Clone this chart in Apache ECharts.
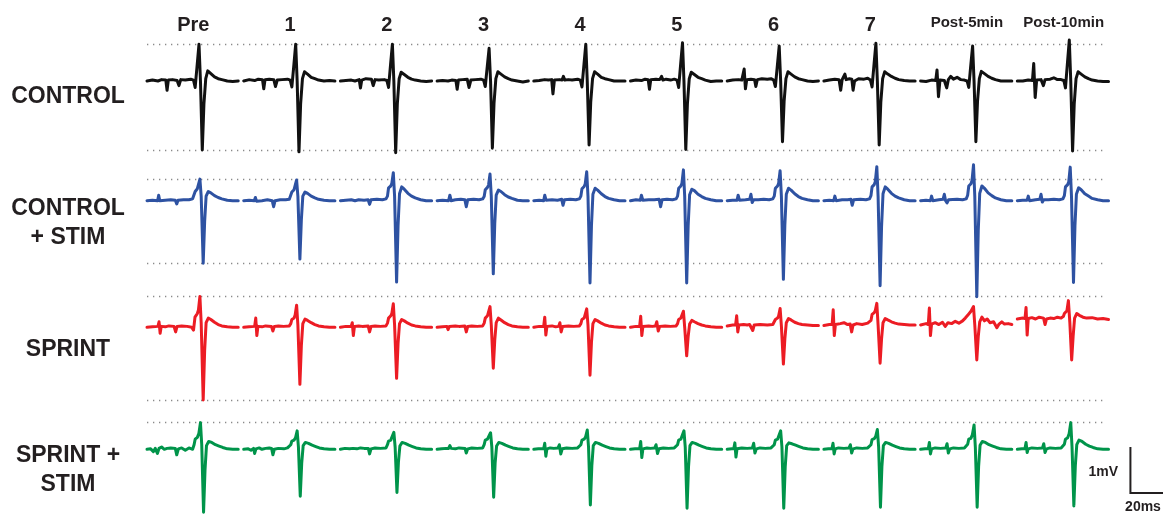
<!DOCTYPE html>
<html>
<head>
<meta charset="utf-8">
<script src="https://cdn.jsdelivr.net/npm/echarts/dist/echarts.min.js"></script>
<style>
  html, body { margin: 0; padding: 0; background: #ffffff; }
  #chart { width: 1163px; height: 514px; }
</style>
</head>
<body>
<div id="chart"></div>
<script>
// Time points and recordings: each trace is a list of [ms, mV] vertices within a 50 ms sweep.
const columnLabels = ['Pre', '1', '2', '3', '4', '5', '6', '7', 'Post-5min', 'Post-10min'];
const rowLabels = ['CONTROL', 'CONTROL\n+ STIM', 'SPRINT', 'SPRINT +\nSTIM'];
const rowColors = ['#111111', '#2e52a2', '#ec1c24', '#00944a'];

const controlTraces = [
  [[0,0],[3,0.02],[6,0],[8,0.03],[10.3,0.02],[11,-0.2],[11.7,0.02],[14,0.03],[16.5,0.01],[17.5,-0.1],[18.5,0.03],[21,0.02],[24,0.04],[25.5,0.02],[26.4,-0.14],[27.5,0.35],[28.5,0.80],[29.3,0],[30.3,-1.50],[31.2,-0.5],[32.2,0.05],[33.3,0.22],[35,0.16],[37,0.09],[39,0.05],[41,0.03],[44,0],[47,-0.01],[50,0]],
  [[0,0],[3,0.03],[6,0.01],[8,0.04],[10.3,0.03],[11,-0.17],[11.7,0.03],[14,0.04],[16.5,0.03],[17.4,-0.12],[18.4,0.02],[21,0.03],[24,0.04],[25.5,0.02],[26.4,-0.13],[27.5,0.35],[28.5,0.80],[29.3,0],[30.3,-1.54],[31.2,-0.5],[32.2,0.05],[33.3,0.20],[35,0.15],[37,0.08],[39,0.05],[41,0.02],[44,0],[47,0.01],[50,0]],
  [[0,0],[3,0.01],[6,0.02],[8,0],[10.3,0.03],[11,-0.15],[11.7,0.02],[14,0.05],[17,0.04],[18,-0.1],[19,0.03],[21,0.02],[24,0.03],[25.5,0.01],[26.4,-0.14],[27.5,0.36],[28.5,0.80],[29.3,0],[30.3,-1.56],[31.2,-0.5],[32.2,0.05],[33.3,0.19],[35,0.14],[37,0.08],[39,0.04],[41,0.02],[44,0],[47,-0.01],[50,0]],
  [[0,0],[3,0.01],[6,0],[8,0.02],[10.3,0.01],[11,-0.18],[11.7,0.02],[14,0.03],[16.5,0.04],[17.5,-0.14],[18.5,0.02],[21,0.03],[24,0.04],[25.5,0.02],[26.4,-0.12],[27.5,0.32],[28.5,0.71],[29.3,0],[30.3,-1.46],[31.2,-0.48],[32.2,0.05],[33.3,0.2],[35,0.15],[37,0.09],[39,0.05],[41,0.02],[44,0],[47,-0.02],[50,0]],
  [[0,0],[3,0.01],[6,0.03],[8,0.02],[9.8,0.03],[10.5,-0.28],[11.3,0.02],[14,0.03],[15.5,0.02],[16.2,0.1],[17,0.02],[19,0.03],[21,0.02],[24,0.04],[25.5,0.02],[26.4,-0.13],[27.5,0.36],[28.5,0.80],[29.3,0],[30.3,-1.39],[31.2,-0.46],[32.2,0.05],[33.3,0.2],[35,0.15],[37,0.08],[39,0.05],[41,0.03],[44,0],[47,0],[50,0]],
  [[0,0],[3,0.02],[6,0.01],[8,0.04],[9.7,0.03],[10.4,-0.18],[11.1,0.03],[14,0.04],[16,0.03],[17,0.1],[17.8,0.02],[19.5,0.04],[22,0.02],[24,0.04],[25.5,0.02],[26.4,-0.14],[27.5,0.37],[28.5,0.83],[29.3,0],[30.3,-1.49],[31.2,-0.49],[32.2,0.05],[33.3,0.19],[35,0.14],[37,0.08],[39,0.05],[41,0.02],[44,-0.01],[47,0],[50,0]],
  [[0,0],[3,0.02],[6,0.03],[8,0.02],[8.8,0.03],[9.3,0.26],[10,-0.17],[10.7,0.03],[13,0.04],[15,0.03],[15.7,-0.12],[16.5,0.03],[19,0.05],[22,0.04],[24,0.05],[25.5,0.02],[26.4,-0.12],[27.5,0.34],[28.5,0.76],[29.3,0],[30.3,-1.32],[31.2,-0.44],[32.2,0.05],[33.3,0.2],[35,0.15],[37,0.09],[39,0.05],[41,0.03],[44,0],[47,-0.01],[50,0]],
  [[0,0],[3,0.02],[6,0.04],[8.3,0.03],[9.2,-0.2],[10,0.03],[11,0.04],[11.5,0.15],[12.2,0.03],[14,0.05],[15.3,0.04],[16,-0.2],[16.8,0],[19,0.05],[22,0.04],[24,0.06],[25.5,0.02],[26.4,-0.13],[27.5,0.37],[28.5,0.82],[29.3,0],[30.3,-1.39],[31.2,-0.46],[32.2,0.05],[33.3,0.2],[35,0.15],[37,0.1],[39,0.06],[41,0.03],[44,0.01],[47,0],[50,0]],
  [[0,0],[3,-0.01],[6,0.02],[8.3,0.01],[9,0.24],[9.8,-0.34],[10.6,0.02],[13,0.01],[14.3,-0.15],[15.2,0.03],[16.5,0.1],[18,0.04],[20,0.08],[22,0.03],[24,0.02],[25.5,0],[26.4,-0.14],[27.5,0.34],[28.5,0.76],[29.3,0],[30.3,-1.32],[31.2,-0.44],[32.2,0.05],[33.3,0.21],[35,0.16],[37,0.1],[39,0.06],[41,0.03],[44,0],[47,0],[50,0]],
  [[0,0],[3,0],[6,0.02],[8.3,0.01],[9,0.38],[9.8,-0.36],[10.6,0.02],[13,0.03],[14.3,-0.1],[15.2,0.03],[18,0.04],[20,0.07],[22,0.03],[24,0.03],[25.5,0.01],[26.4,-0.15],[27.5,0.4],[28.5,0.89],[29.3,0],[30.3,-1.52],[31.2,-0.5],[32.2,0.05],[33.3,0.2],[35,0.15],[37,0.09],[39,0.05],[41,0.02],[44,0],[47,-0.01],[50,-0.01]]
];

const controlStimTraces = [
  [[0,0],[3,0.01],[5.8,0],[6.4,0.12],[7,0],[10,0.01],[13,0.02],[15.5,0.01],[16.3,-0.07],[17,0.01],[20,0.02],[23,0.02],[25,0.04],[25.8,0.08],[26.4,0.2],[27.6,0.26],[28.2,0.3],[29,0.47],[29.7,0.1],[30.8,-1.36],[31.6,-0.45],[32.4,0.1],[33.6,0.2],[35,0.17],[37,0.11],[39,0.07],[41,0.04],[44,0.01],[47,0],[50,0]],
  [[0,0],[3,0.01],[5.8,0],[6.4,0.07],[7,-0.01],[10,0],[13,0.02],[15.6,0],[16.4,-0.13],[17.2,0],[20,0.02],[23,0.02],[25,0.03],[25.8,0.07],[26.4,0.19],[27.6,0.24],[28.2,0.28],[29,0.45],[29.7,0.1],[30.8,-1.27],[31.6,-0.42],[32.4,0.1],[33.6,0.19],[35,0.16],[37,0.1],[39,0.06],[41,0.03],[44,0.01],[47,0],[50,0]],
  [[0,0],[3,0.01],[6,0.02],[8,0],[10,0.02],[13,0.01],[15.2,0.02],[16,-0.08],[16.8,0.02],[20,0.03],[23,0.02],[25,0.04],[25.8,0.1],[26.4,0.28],[27.6,0.32],[28.2,0.38],[29,0.61],[29.7,0.1],[30.8,-1.77],[31.6,-0.55],[32.4,0.15],[33.6,0.3],[35,0.25],[37,0.16],[39,0.1],[41,0.06],[44,0.02],[47,0],[50,0]],
  [[0,0],[3,0.01],[6.3,0],[7,0.12],[7.7,0],[10,0.02],[13,0.03],[15.2,0.02],[16,-0.13],[16.8,0.02],[20,0.03],[23,0.02],[25,0.04],[25.8,0.09],[26.4,0.24],[27.6,0.29],[28.2,0.34],[29,0.58],[29.7,0.1],[30.8,-1.59],[31.6,-0.5],[32.4,0.12],[33.6,0.23],[35,0.2],[37,0.13],[39,0.08],[41,0.05],[44,0.01],[47,0],[50,0]],
  [[0,0],[3,0.01],[5.4,0],[6,0.12],[6.7,0.01],[10,0.02],[13,0.01],[15.3,0.03],[16,-0.1],[16.8,0.02],[20,0.03],[23,0.02],[25,0.04],[25.8,0.1],[26.4,0.26],[27.6,0.31],[28.2,0.37],[29,0.63],[29.7,0.1],[30.8,-1.79],[31.6,-0.55],[32.4,0.14],[33.6,0.27],[35,0.23],[37,0.15],[39,0.09],[41,0.05],[44,0.02],[47,0],[50,0]],
  [[0,0],[3,0.02],[5.4,0.01],[6,0.12],[6.7,0.01],[10,0.02],[13,0.02],[15.7,0.03],[16.5,-0.13],[17.3,0.02],[20,0.03],[23,0.02],[25,0.04],[25.8,0.1],[26.4,0.27],[27.6,0.32],[28.2,0.38],[29,0.67],[29.7,0.1],[30.8,-1.79],[31.6,-0.55],[32.4,0.13],[33.6,0.25],[35,0.22],[37,0.14],[39,0.09],[41,0.05],[44,0.02],[47,0],[50,0]],
  [[0,0],[3,0.01],[5.4,0.01],[6,0.12],[6.7,0.01],[10,0.02],[12.3,0.03],[13,0.14],[13.7,-0.04],[14.5,0.02],[17,0.02],[20,0.03],[23,0.02],[25,0.04],[25.8,0.1],[26.4,0.27],[27.6,0.32],[28.2,0.38],[29,0.65],[29.7,0.1],[30.8,-1.71],[31.6,-0.53],[32.4,0.14],[33.6,0.27],[35,0.23],[37,0.15],[39,0.09],[41,0.05],[44,0.02],[47,0],[50,0]],
  [[0,0],[3,0.01],[5.4,0],[6,0.1],[6.7,0],[10,0.02],[13,0.02],[14.8,0.03],[15.5,-0.1],[16.3,0.02],[20,0.03],[23,0.02],[25,0.04],[25.8,0.11],[26.4,0.3],[27.6,0.35],[28.2,0.42],[29,0.74],[29.7,0.1],[30.8,-1.85],[31.6,-0.57],[32.4,0.15],[33.6,0.3],[35,0.25],[37,0.16],[39,0.1],[41,0.06],[44,0.02],[47,0],[50,0]],
  [[0,0],[3,0.01],[5.4,0],[6,0.1],[6.7,0],[10,0.02],[12.3,0.03],[13,0.14],[13.7,0],[14.5,-0.05],[15.3,0.02],[20,0.03],[23,0.02],[25,0.04],[25.8,0.12],[26.4,0.32],[27.6,0.37],[28.2,0.44],[29,0.78],[29.7,0.1],[30.8,-2.09],[31.6,-0.65],[32.4,0.16],[33.6,0.32],[35,0.27],[37,0.17],[39,0.11],[41,0.06],[44,0.02],[47,0],[50,0]],
  [[0,0],[3,0.01],[5.4,0.01],[6,0.1],[6.7,0],[10,0.02],[12.3,0.03],[13,0.14],[13.7,-0.03],[14.5,0.02],[17,0.02],[20,0.03],[23,0.02],[25,0.04],[25.8,0.11],[26.4,0.3],[27.6,0.35],[28.2,0.41],[29,0.73],[29.7,0.1],[30.8,-1.78],[31.6,-0.55],[32.4,0.14],[33.6,0.28],[35,0.24],[37,0.15],[39,0.1],[41,0.05],[44,0.02],[47,0],[50,0]]
];

const sprintTraces = [
  [[0,0],[3,0.01],[6,0.02],[6.6,0.12],[7.2,-0.13],[7.8,0.02],[10,0.01],[12,0.03],[14.8,0.02],[15.7,-0.1],[16.5,0.02],[19,0.03],[22,0.02],[24.5,0],[25.5,-0.06],[26.3,0.22],[27.6,0.3],[28.2,0.38],[29,0.67],[29.7,0.1],[30.8,-1.58],[31.6,-0.5],[32.4,0.1],[33.6,0.2],[35,0.17],[37,0.11],[39,0.06],[41,0.03],[44,0.01],[47,0],[50,0]],
  [[0,0],[3,0.01],[6,0.02],[6.6,0.2],[7.2,-0.18],[7.8,0.02],[10,0.01],[12,0.03],[15.2,0.02],[16,-0.08],[16.8,0.02],[19,0.03],[22,0.02],[25,0.03],[25.8,0.08],[26.4,0.17],[27.6,0.2],[28.2,0.27],[29,0.48],[29.7,0.05],[30.8,-1.24],[31.6,-0.4],[32.4,0.08],[33.6,0.18],[35,0.15],[37,0.1],[39,0.06],[41,0.03],[44,0.01],[47,0],[50,0]],
  [[0,0],[3,0.02],[5.9,0.02],[6.5,0.1],[7.1,-0.18],[7.7,0.02],[10,0.03],[12,0.02],[15.2,0.03],[16,-0.1],[16.8,0.02],[19,0.03],[22,0.02],[25,0.03],[25.8,0.09],[26.4,0.2],[27.6,0.25],[28.2,0.3],[29,0.51],[29.7,0.05],[30.8,-1.11],[31.6,-0.35],[32.4,0.08],[33.6,0.17],[35,0.14],[37,0.09],[39,0.05],[41,0.03],[44,0.01],[47,0],[50,0]],
  [[0,0],[3,0.01],[5.4,0.02],[6,-0.05],[6.7,0.02],[10,0.03],[12,0.02],[15.2,0.03],[16,-0.1],[16.8,0.02],[19,0.03],[22,0.02],[25,0.03],[25.8,0.09],[26.4,0.2],[27.6,0.25],[28.2,0.28],[29,0.45],[29.7,0.05],[30.8,-0.89],[31.6,-0.28],[32.4,0.1],[33.6,0.2],[35,0.16],[37,0.1],[39,0.06],[41,0.03],[44,0.01],[47,0],[50,0]],
  [[0,0],[3,0.02],[5.4,0.02],[6,0.22],[6.6,-0.17],[7.2,0.02],[10,0.03],[12,0.01],[13.6,0.02],[14.3,0.1],[15,-0.1],[15.8,0.02],[19,0.03],[22,0.02],[25,0.03],[25.8,0.08],[26.4,0.17],[27.6,0.2],[28.2,0.24],[29,0.40],[29.7,0.05],[30.8,-1.04],[31.6,-0.33],[32.4,0.08],[33.6,0.17],[35,0.14],[37,0.09],[39,0.05],[41,0.03],[44,0.01],[47,0],[50,0]],
  [[0,0],[3,0.02],[5,0.02],[5.6,0.24],[6.2,-0.18],[6.8,0.02],[10,0.03],[12,0.02],[13.7,0.03],[14.4,0.12],[15.2,-0.08],[16,0.02],[19,0.03],[22,0.02],[25,0.03],[25.8,0.08],[26.4,0.17],[27.6,0.2],[28.2,0.23],[29,0.35],[29.7,0],[30.8,-0.62],[31.6,-0.2],[32.4,0.07],[33.6,0.15],[35,0.12],[37,0.08],[39,0.05],[41,0.03],[44,0.01],[47,0],[50,0]],
  [[0,0.03],[3,0.05],[4.6,0.05],[5.2,0.25],[5.8,-0.1],[6.4,0.05],[9,0.06],[11,0.05],[12.3,0.06],[13,0.1],[14,-0.07],[14.8,0.05],[18,0.06],[22,0.05],[25,0.06],[25.8,0.1],[26.4,0.17],[27.6,0.2],[28.2,0.25],[29,0.41],[29.7,0.03],[30.8,-0.80],[31.6,-0.25],[32.4,0.1],[33.6,0.19],[35,0.16],[37,0.11],[39,0.08],[41,0.06],[44,0.05],[47,0.04],[50,0.04]],
  [[0,0.04],[3,0.06],[4.5,0.06],[5.1,0.38],[5.7,-0.18],[6.3,0.06],[9,0.08],[11,0.1],[13,0.06],[14.4,0.07],[15.2,-0.1],[16,0.05],[18,0.08],[21,0.06],[24,0.09],[25,0.06],[25.8,0.15],[26.4,0.28],[27.6,0.32],[28.2,0.37],[29,0.52],[29.7,0.05],[30.8,-0.78],[31.6,-0.25],[32.4,0.1],[33.6,0.19],[35,0.16],[37,0.12],[39,0.09],[41,0.07],[44,0.06],[47,0.05],[50,0.05]],
  [[0,0.05],[3,0.08],[4.2,0.06],[4.8,0.42],[5.4,-0.18],[6,0.07],[8,0.1],[10,0.06],[12,0.11],[13.5,0.02],[15,0.1],[17,0.08],[19,0.13],[21,0.09],[23,0.14],[24.5,0.2],[25.8,0.26],[26.4,0.3],[27.6,0.35],[28.2,0.38],[29,0.45],[29.7,0.05],[30.8,-0.71],[31.6,-0.2],[32.4,0.12],[33.6,0.22],[35,0.14],[36.5,0.18],[38,0.1],[40,0.12],[41.8,-0.01],[43,0.07],[44.5,0.12],[46,0.07],[48,0.08],[50,0.06]],
  [[0,0.18],[3,0.2],[4.2,0.19],[4.8,0.43],[5.4,-0.17],[6,0.19],[8,0.21],[10,0.18],[12,0.22],[14.4,0.2],[15.2,0.06],[16,0.18],[18,0.2],[20,0.19],[22,0.22],[24,0.2],[25.3,0.24],[25.8,0.3],[26.4,0.33],[27.2,0.36],[28,0.58],[28.8,0.1],[29.8,-0.71],[30.6,-0.2],[31.4,0.2],[32.6,0.3],[34,0.26],[36,0.22],[38,0.2],[41,0.21],[44,0.18],[47,0.19],[50,0.17]]
];

const sprintStimTraces = [
  [[0,0],[2,0.01],[3.5,-0.05],[4.5,0.02],[5.7,-0.09],[6.6,0.02],[8,0.05],[9.5,0],[11,0.02],[13,0.03],[15.5,0.02],[16.3,-0.12],[17.2,0.01],[19,0.03],[21,-0.02],[23,0.03],[25,0],[25.8,0.1],[26.4,0.22],[27.6,0.26],[28.4,0.34],[29.3,0.58],[30,0.1],[31,-1.37],[31.8,-0.45],[32.6,0.08],[33.8,0.17],[35.5,0.15],[37.5,0.1],[39.5,0.07],[41.5,0.04],[44,0.01],[47,0],[50,0]],
  [[0,0],[2.5,0.01],[4,-0.02],[5.4,0.02],[6,-0.09],[6.7,0.01],[8.5,0.03],[10,0],[12,0.02],[14,0.03],[15.3,0.02],[16,-0.12],[16.8,0],[19,0.02],[22,0.01],[24,0.03],[25,0.01],[25.8,0.1],[26.4,0.18],[27.6,0.2],[28.4,0.25],[29.3,0.40],[30,0.05],[31,-1.02],[31.8,-0.3],[32.6,0.08],[33.8,0.15],[35.5,0.13],[37.5,0.09],[39.5,0.06],[41.5,0.03],[44,0.01],[47,0],[50,0]],
  [[0,0],[2.5,0.02],[5,0.01],[6,-0.03],[7,0.02],[9,0.01],[11,0.03],[13,0.02],[15.3,0.02],[16,-0.1],[16.8,0.01],[19,0.03],[22,0.02],[25,0.03],[25.8,0.1],[26.4,0.18],[27.6,0.2],[28.4,0.24],[29.3,0.37],[30,0.05],[31,-0.94],[31.8,-0.28],[32.6,0.07],[33.8,0.15],[35.5,0.13],[37.5,0.09],[39.5,0.06],[41.5,0.03],[44,0.01],[47,0],[50,0]],
  [[0,0],[2.5,0.01],[5,0.02],[6.3,0.02],[7,0.08],[7.7,0.02],[10,0.01],[12,0.03],[15.3,0.02],[16,-0.08],[16.8,0.01],[19,0.03],[22,0.02],[25,0.03],[25.8,0.1],[26.4,0.2],[27.6,0.22],[28.4,0.25],[29.3,0.36],[30,0.05],[31,-1.04],[31.8,-0.3],[32.6,0.07],[33.8,0.15],[35.5,0.13],[37.5,0.09],[39.5,0.06],[41.5,0.03],[44,0.01],[47,0],[50,0]],
  [[0,0],[2.5,0.01],[5.4,0.01],[6,0.13],[6.6,-0.15],[7.2,0.01],[9,0.03],[11,0.02],[13.3,0.03],[14,0.1],[14.8,-0.1],[15.6,0.01],[18,0.03],[21,0.02],[24,0.03],[25,0.02],[25.8,0.1],[26.4,0.2],[27.6,0.22],[28.4,0.27],[29.3,0.42],[30,0.05],[31,-1.21],[31.8,-0.36],[32.6,0.08],[33.8,0.15],[35.5,0.13],[37.5,0.09],[39.5,0.06],[41.5,0.03],[44,0.01],[47,0],[50,0]],
  [[0,0],[2.5,0.01],[5,0.01],[5.6,0.17],[6.2,-0.18],[6.8,0.01],[9,0.03],[11,0.02],[13.3,0.03],[14,0.1],[14.8,-0.09],[15.6,0.01],[18,0.03],[21,0.02],[24,0.03],[25,0.02],[25.8,0.1],[26.4,0.2],[27.6,0.22],[28.4,0.26],[29.3,0.40],[30,0.05],[31,-1.28],[31.8,-0.38],[32.6,0.08],[33.8,0.15],[35.5,0.13],[37.5,0.09],[39.5,0.06],[41.5,0.03],[44,0.01],[47,0],[50,0]],
  [[0,0],[2.5,0.01],[3.6,0.01],[4.2,0.14],[4.8,-0.17],[5.4,0.01],[8,0.03],[11,0.02],[13.8,0.03],[14.5,0.13],[15.2,-0.08],[16,0.01],[18,0.03],[21,0.02],[24,0.03],[25,0.02],[25.8,0.1],[26.4,0.2],[27.6,0.22],[28.4,0.26],[29.3,0.40],[30,0.05],[31,-1.28],[31.8,-0.38],[32.6,0.08],[33.8,0.14],[35.5,0.12],[37.5,0.09],[39.5,0.06],[41.5,0.03],[44,0.01],[47,0],[50,0]],
  [[0,0],[2.5,0.01],[4.4,0.01],[5,0.13],[5.6,-0.1],[6.2,0.01],[8,0.03],[11,0.02],[13.8,0.03],[14.5,0.1],[15.2,-0.08],[16,0.01],[18,0.03],[21,0.02],[24,0.03],[25,0.02],[25.8,0.1],[26.4,0.21],[27.6,0.23],[28.4,0.28],[29.3,0.43],[30,0.05],[31,-1.26],[31.8,-0.37],[32.6,0.08],[33.8,0.15],[35.5,0.13],[37.5,0.09],[39.5,0.06],[41.5,0.03],[44,0.01],[47,0],[50,0]],
  [[0,0],[2.5,0.01],[4.2,0.01],[4.8,0.15],[5.4,-0.1],[6,0.01],[8,0.03],[11,0.02],[13.8,0.03],[14.5,0.12],[15.2,-0.08],[16,0.01],[18,0.03],[21,0.02],[24,0.03],[25,0.02],[25.8,0.11],[26.4,0.22],[27.6,0.24],[28.4,0.32],[29.3,0.53],[30,0.05],[31,-1.26],[31.8,-0.37],[32.6,0.09],[33.8,0.17],[35.5,0.15],[37.5,0.1],[39.5,0.07],[41.5,0.04],[44,0.01],[47,0],[50,0]],
  [[0,0],[2.5,0.01],[4.2,0.01],[4.8,0.15],[5.4,-0.07],[6,0.01],[8,0.03],[11,0.02],[13.8,0.03],[14.5,0.12],[15.2,-0.07],[16,0.01],[18,0.03],[21,0.02],[24,0.03],[25,0.02],[25.8,0.11],[26.4,0.22],[27.6,0.25],[28.4,0.34],[29.3,0.58],[30,0.05],[31,-1.23],[31.8,-0.36],[32.6,0.1],[33.8,0.2],[35.5,0.17],[37.5,0.11],[39.5,0.07],[41.5,0.04],[44,0.01],[47,0],[50,0]]
];

const scaleBarMV = 1;     // vertical calibration, mV
const scaleBarMS = 20;    // horizontal calibration, ms
const scaleBarLabels = ['1mV', '20ms'];

// ---- layout ----
const rows = [controlTraces, controlStimTraces, sprintTraces, sprintStimTraces];
const SWEEP_STEP = 53;            // ms between successive sweeps along the x axis
const X_MAX = 570;                // ms shown on each row's axis
const PX_PER_MS = 96.7 / SWEEP_STEP;
const PX_PER_MV = 46;
const Y_MIN = -2.5, Y_MAX = 1.2;
const GRID_LEFT = 147;
const baselines = [81, 200.7, 327.3, 449.3];
const FONT = '"Liberation Sans", Arial, Helvetica, sans-serif';
const INK = '#231f20';

const grids = [], xAxes = [], yAxes = [], series = [];

rows.forEach((traces, r) => {
  grids.push({
    left: GRID_LEFT,
    top: baselines[r] - Y_MAX * PX_PER_MV,
    width: X_MAX * PX_PER_MS,
    height: (Y_MAX - Y_MIN) * PX_PER_MV,
    outerBoundsMode: 'none',
    containLabel: false
  });
  xAxes.push({ gridIndex: r, type: 'value', min: 0, max: X_MAX, show: false });
  yAxes.push({ gridIndex: r, type: 'value', min: Y_MIN, max: Y_MAX, show: false });

  // dotted guides at the Pre sweep's extreme values
  const pre = traces[0].map(p => p[1]);
  const levels = [Math.max(...pre)];
  if (r < 3) levels.push(Math.min(...pre));
  const lastEnd = (traces.length - 1) * SWEEP_STEP + 47;

  traces.forEach((trace, c) => {
    const s = {
      type: 'line',
      xAxisIndex: r,
      yAxisIndex: r,
      data: trace.map(p => [c * SWEEP_STEP + p[0], p[1]]),
      showSymbol: false,
      silent: true,
      clip: false,
      z: 3,
      lineStyle: { color: rowColors[r], width: 3, cap: 'round', join: 'round' }
    };
    if (c === 0) {
      s.markLine = {
        silent: true,
        symbol: ['none', 'none'],
        label: { show: false },
        z: 1,
        lineStyle: { color: '#8a8a8a', width: 1.3, type: [1.3, 4.7] },
        data: levels.map(v => [{ coord: [0, v] }, { coord: [lastEnd, v] }])
      };
    }
    series.push(s);
  });
});

// calibration bar on the bottom row
const barX = 539, barTop = 0.05;
series.push({
  type: 'line',
  xAxisIndex: 3,
  yAxisIndex: 3,
  data: [[barX, barTop], [barX, barTop - scaleBarMV], [barX + scaleBarMS, barTop - scaleBarMV]],
  showSymbol: false,
  silent: true,
  clip: false,
  lineStyle: { color: INK, width: 2, cap: 'butt', join: 'miter' }
});

// header row with the sweep names
grids.push({ left: GRID_LEFT - 2, top: 0, width: 96.7 * columnLabels.length, height: 14, outerBoundsMode: 'none' });
xAxes.push({
  gridIndex: 4, type: 'category', data: columnLabels, position: 'bottom',
  axisLine: { show: false }, axisTick: { show: false },
  axisLabel: {
    interval: 0, margin: 1, verticalAlign: 'top',
    formatter: v => (v.length > 3 ? '{s|' + v + '}' : '{b|' + v + '}'),
    rich: {
      b: { fontSize: 20, lineHeight: 20, fontWeight: 'bold', fontFamily: FONT, color: INK },
      s: { fontSize: 15, lineHeight: 15, fontWeight: 'bold', fontFamily: FONT, color: INK }
    }
  }
});
yAxes.push({ gridIndex: 4, type: 'value', show: false });

const rowLabelY = [97, 223, 350, 470];
const graphic = rowLabels.map((t, i) => ({
  type: 'text',
  x: 68,
  y: rowLabelY[i],
  silent: true,
  style: {
    text: t,
    align: 'center',
    verticalAlign: 'middle',
    fontFamily: FONT,
    fontWeight: 'bold',
    fontSize: 23,
    lineHeight: 29,
    fill: INK
  }
}));
graphic.push(
  { type: 'text', x: 1118, y: 472, silent: true,
    style: { text: scaleBarLabels[0], align: 'right', verticalAlign: 'middle', fontFamily: FONT, fontWeight: 'bold', fontSize: 14, fill: INK } },
  { type: 'text', x: 1143, y: 507, silent: true,
    style: { text: scaleBarLabels[1], align: 'center', verticalAlign: 'middle', fontFamily: FONT, fontWeight: 'bold', fontSize: 14, fill: INK } }
);

const chart = echarts.init(document.getElementById('chart'), null, { renderer: 'canvas' });
chart.setOption({
  animation: false,
  backgroundColor: '#ffffff',
  grid: grids,
  xAxis: xAxes,
  yAxis: yAxes,
  series: series,
  graphic: graphic
});
</script>
</body>
</html>
